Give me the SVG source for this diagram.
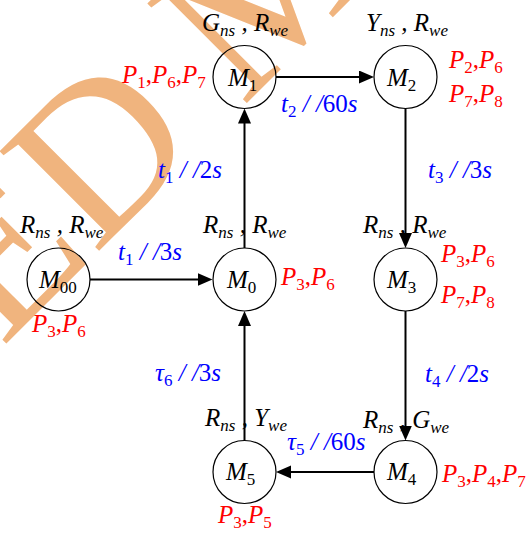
<svg xmlns="http://www.w3.org/2000/svg" width="528" height="533" viewBox="0 0 528 533">
<defs>
<style>
.t { font-family: "Liberation Serif", "Times New Roman", serif; font-size: 25px; font-style: italic; }
.k { fill: #000; } .b { fill: #0000ff; } .r { fill: #ff0000; }
.n { font-style: normal; }
.sb { font-size: 17px; }
.node circle { fill: none; stroke: #000; stroke-width: 1.2; }
.conn line { stroke: #000; stroke-width: 2; marker-end: url(#ah); }
.wm { font-family: "Liberation Serif", "Times New Roman", serif; font-size: 215px; fill: #F0B47E; }
</style>
<marker id="ah" markerUnits="userSpaceOnUse" markerWidth="16" markerHeight="14" refX="7" refY="6.5" orient="auto">
<path d="M0,0 L15,6.5 L0,13 Z" fill="#000"/>
</marker>
</defs>
<rect width="528" height="533" fill="#fff"/>
<text class="wm" transform="translate(95 255) rotate(-45)" x="-956" y="0">ACCEPTED MANUSCRIPT</text>

<g id="M1" class="node">
<circle cx="244.5" cy="77" r="31.5"/>
<text class="t k" x="228" y="86">M<tspan class="sb n" dy="5">1</tspan></text>
<text class="t k" x="202" y="31">G<tspan class="sb" dy="5">ns</tspan><tspan dy="-5"> , R</tspan><tspan class="sb" dy="5">we</tspan></text>
<text class="t r" x="122" y="83">P<tspan class="sb n" dy="5">1</tspan><tspan class="n" dy="-5">,</tspan>P<tspan class="sb n" dy="5">6</tspan><tspan class="n" dy="-5">,</tspan>P<tspan class="sb n" dy="5">7</tspan></text>
</g>

<g id="M2" class="node">
<circle cx="405.5" cy="77" r="31.5"/>
<text class="t k" x="387" y="86">M<tspan class="sb n" dy="5">2</tspan></text>
<text class="t k" x="366" y="31">Y<tspan class="sb" dy="5">ns</tspan><tspan dy="-5"> , R</tspan><tspan class="sb" dy="5">we</tspan></text>
<text class="t r" x="449" y="68">P<tspan class="sb n" dy="5">2</tspan><tspan class="n" dy="-5">,</tspan>P<tspan class="sb n" dy="5">6</tspan></text>
<text class="t r" x="449" y="102">P<tspan class="sb n" dy="5">7</tspan><tspan class="n" dy="-5">,</tspan>P<tspan class="sb n" dy="5">8</tspan></text>
</g>

<g id="M00" class="node">
<circle cx="58.5" cy="279.5" r="31.5"/>
<text class="t k" x="39" y="288">M<tspan class="sb n" dy="5">00</tspan></text>
<text class="t k" x="20" y="233">R<tspan class="sb" dy="5">ns</tspan><tspan dy="-5"> , R</tspan><tspan class="sb" dy="5">we</tspan></text>
<text class="t r" x="32" y="332">P<tspan class="sb n" dy="5">3</tspan><tspan class="n" dy="-5">,</tspan>P<tspan class="sb n" dy="5">6</tspan></text>
</g>

<g id="M0" class="node">
<circle cx="244.5" cy="279.5" r="31.5"/>
<text class="t k" x="227" y="288">M<tspan class="sb n" dy="5">0</tspan></text>
<text class="t k" x="203" y="233">R<tspan class="sb" dy="5">ns</tspan><tspan dy="-5"> , R</tspan><tspan class="sb" dy="5">we</tspan></text>
<text class="t r" x="281" y="285">P<tspan class="sb n" dy="5">3</tspan><tspan class="n" dy="-5">,</tspan>P<tspan class="sb n" dy="5">6</tspan></text>
</g>

<g id="M3" class="node">
<circle cx="405.5" cy="279.5" r="31.5"/>
<text class="t k" x="387" y="288">M<tspan class="sb n" dy="5">3</tspan></text>
<text class="t k" x="363" y="233">R<tspan class="sb" dy="5">ns</tspan><tspan dy="-5"> , R</tspan><tspan class="sb" dy="5">we</tspan></text>
<text class="t r" x="441" y="262">P<tspan class="sb n" dy="5">3</tspan><tspan class="n" dy="-5">,</tspan>P<tspan class="sb n" dy="5">6</tspan></text>
<text class="t r" x="441" y="303">P<tspan class="sb n" dy="5">7</tspan><tspan class="n" dy="-5">,</tspan>P<tspan class="sb n" dy="5">8</tspan></text>
</g>

<g id="M5" class="node">
<circle cx="244.5" cy="472" r="31.5"/>
<text class="t k" x="226" y="480">M<tspan class="sb n" dy="5">5</tspan></text>
<text class="t k" x="205" y="426">R<tspan class="sb" dy="5">ns</tspan><tspan dy="-5"> , Y</tspan><tspan class="sb" dy="5">we</tspan></text>
<text class="t r" x="218" y="523">P<tspan class="sb n" dy="5">3</tspan><tspan class="n" dy="-5">,</tspan>P<tspan class="sb n" dy="5">5</tspan></text>
</g>

<g id="M4" class="node">
<circle cx="405.5" cy="472" r="31.5"/>
<text class="t k" x="387" y="480">M<tspan class="sb n" dy="5">4</tspan></text>
<text class="t k" x="363" y="428">R<tspan class="sb" dy="5">ns</tspan><tspan dy="-5"> , G</tspan><tspan class="sb" dy="5">we</tspan></text>
<text class="t r" x="442" y="482">P<tspan class="sb n" dy="5">3</tspan><tspan class="n" dy="-5">,</tspan>P<tspan class="sb n" dy="5">4</tspan><tspan class="n" dy="-5">,</tspan>P<tspan class="sb n" dy="5">7</tspan></text>
</g>

<g id="connectors" class="conn">
<line x1="90" y1="279.5" x2="204.5" y2="279.5"/>
<line x1="276" y1="77" x2="366" y2="77"/>
<line x1="244.5" y1="248" x2="244.5" y2="116.5"/>
<line x1="405.5" y1="108.5" x2="405.5" y2="240"/>
<line x1="405.5" y1="311" x2="405.5" y2="432.5"/>
<line x1="374" y1="472" x2="284" y2="472"/>
<line x1="244.5" y1="440.5" x2="244.5" y2="319"/>
</g>

<g id="edge-labels">
<text class="t b" x="158" y="178">t<tspan class="sb n" dy="5">1</tspan><tspan dy="-5"> / /</tspan><tspan class="n">2</tspan>s</text>
<text class="t b" x="281" y="112">t<tspan class="sb n" dy="5">2</tspan><tspan dy="-5"> / /</tspan><tspan class="n">60</tspan>s</text>
<text class="t b" x="428" y="178">t<tspan class="sb n" dy="5">3</tspan><tspan dy="-5"> / /</tspan><tspan class="n">3</tspan>s</text>
<text class="t b" x="118" y="260">t<tspan class="sb n" dy="5">1</tspan><tspan dy="-5"> / /</tspan><tspan class="n">3</tspan>s</text>
<text class="t b" x="425" y="382">t<tspan class="sb n" dy="5">4</tspan><tspan dy="-5"> / /</tspan><tspan class="n">2</tspan>s</text>
<text class="t b" x="155" y="381">τ<tspan class="sb n" dy="5">6</tspan><tspan dy="-5"> / /</tspan><tspan class="n">3</tspan>s</text>
<text class="t b" x="287" y="450">τ<tspan class="sb n" dy="5">5</tspan><tspan dy="-5"> / /</tspan><tspan class="n">60</tspan>s</text>
</g>
</svg>
